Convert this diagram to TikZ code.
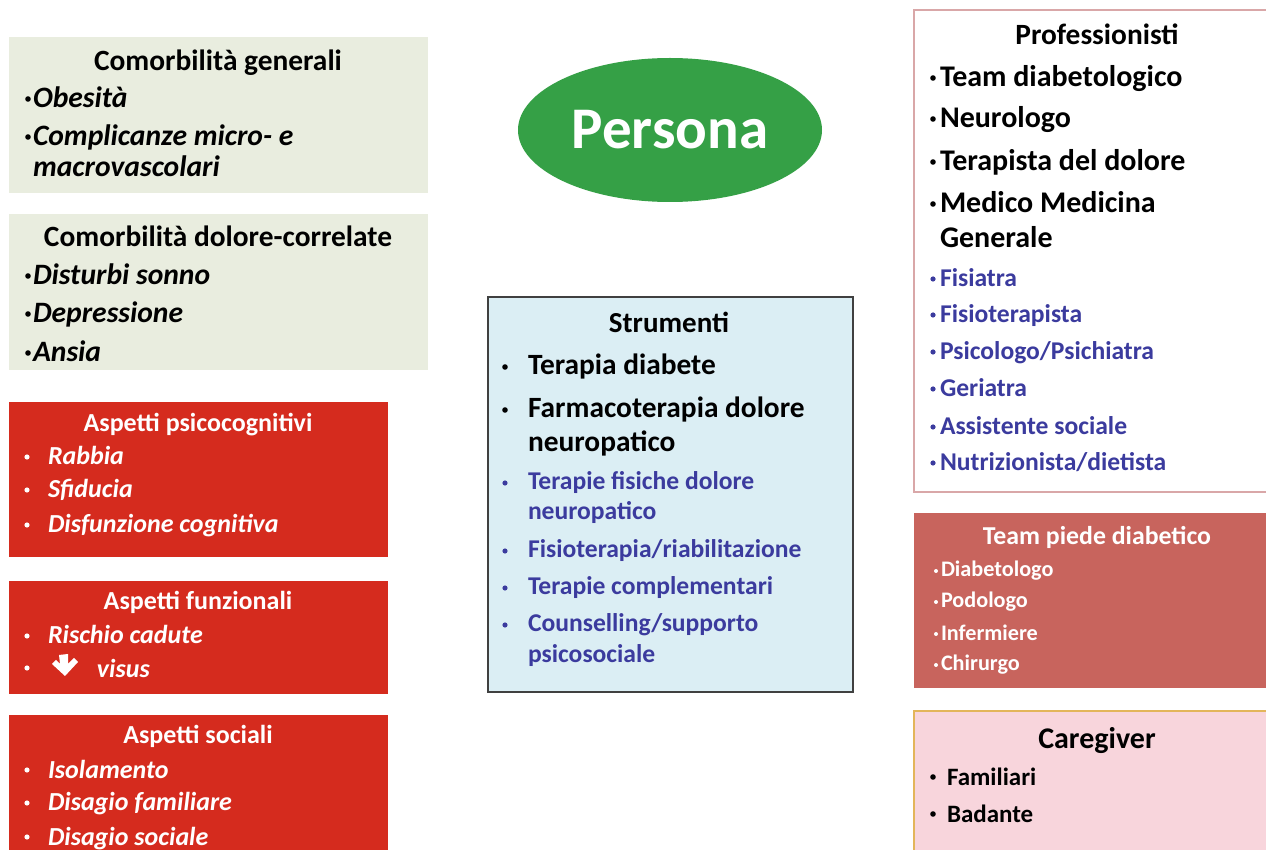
\documentclass[tikz,border=0pt]{standalone}
\usepackage{fontspec}
\setmainfont{Carlito}
\definecolor{greenbox}{HTML}{E9EDDF}
\definecolor{redbox}{HTML}{D52B1E}
\definecolor{footbox}{HTML}{C8645D}
\definecolor{carefill}{HTML}{F8D5DC}
\definecolor{careline}{HTML}{E3B55A}
\definecolor{profline}{HTML}{D9A7A8}
\definecolor{toolfill}{HTML}{DBEEF4}
\definecolor{toolline}{HTML}{404040}
\definecolor{persgreen}{HTML}{35A046}
\definecolor{itemblue}{HTML}{3B3B9E}
\newcommand{\fs}[1]{\fontsize{#1}{1.2\dimexpr#1\relax}\selectfont\bfseries}
\begin{document}
\begin{tikzpicture}[x=0.5pt,y=-0.5pt,
  every node/.style={inner sep=0pt, outer sep=0pt},
  ttl/.style={anchor=base},
  itm/.style={anchor=base west},
  dot/.style={circle, fill=black, minimum size=2.8pt},
  wdot/.style={dot, fill=white, minimum size=2.6pt},
  bdot/.style={dot, fill=itemblue, minimum size=2.6pt},
  gttl/.style={ttl, font=\fs{14.7pt}},
  gitm/.style={itm, font=\fs{14.8pt}\itshape},
  rttl/.style={ttl, text=white, font=\fs{13pt}},
  ritm/.style={itm, text=white, font=\fs{13pt}\itshape},
  pttl/.style={ttl, font=\fs{14.7pt}},
  pitm/.style={itm, font=\fs{15pt}},
  bitm/.style={itm, text=itemblue, font=\fs{12.8pt}},
  sttl/.style={ttl, font=\fs{14.5pt}},
  sitm/.style={itm, font=\fs{14.7pt}},
  fttl/.style={ttl, text=white, font=\fs{12.9pt}},
  fitm/.style={itm, text=white, font=\fs{11.1pt}},
  cttl/.style={ttl, font=\fs{15pt}},
  citm/.style={itm, font=\fs{12.5pt}}]
\clip (0,0) rectangle (1266,850);
\fill[white] (0,0) rectangle (1266,850);

% ---- left column: comorbidities ----
\fill[greenbox] (9,37) rectangle (428,193);
\node[gttl] (g1t) at (218,71) {Comorbilità generali};
\node[dot] (g1ab) at (28,99) {};
\node[gitm] (g1a) at (33,108) {Obesità};
\node[dot] (g1bb) at (28,137) {};
\node[gitm] (g1b) at (33,146) {Complicanze micro- e};
\node[gitm] (g1c) at (33,177) {macrovascolari};

\fill[greenbox] (9,214) rectangle (428,370);
\node[gttl] (g2t) at (218,247) {Comorbilità dolore-correlate};
\node[dot] (g2ab) at (28,276) {};
\node[gitm] (g2a) at (33,285) {Disturbi sonno};
\node[dot] (g2bb) at (28,314) {};
\node[gitm] (g2b) at (33,323) {Depressione};
\node[dot] (g2cb) at (28,353) {};
\node[gitm] (g2c) at (33,362) {Ansia};

% ---- left column: aspects ----
\fill[redbox] (9,402) rectangle (388,557);
\node[rttl] (r1t) at (198,432) {Aspetti psicocognitivi};
\node[wdot] (r1ab) at (27,457) {};
\node[ritm] (r1a) at (48,465) {Rabbia};
\node[wdot] (r1bb) at (27,490) {};
\node[ritm] (r1b) at (48,498) {Sfiducia};
\node[wdot] (r1cb) at (27,525) {};
\node[ritm] (r1c) at (48,533) {Disfunzione cognitiva};

\fill[redbox] (9,581) rectangle (388,694);
\node[rttl] (r2t) at (198,610) {Aspetti funzionali};
\node[wdot] (r2ab) at (27,636) {};
\node[ritm] (r2a) at (48,644) {Rischio cadute};
\node[wdot] (r2bb) at (27,668) {};
% heavy downward arrow before "visus"
\fill[white] (59,655) -- (68,654) -- (68,664) -- (74,658) -- (78,662) -- (65,676)
  -- (52,664) -- (56,660) -- (60,664) -- cycle;
\node[ritm] (r2b) at (97,677) {visus};

\fill[redbox] (9,715) rectangle (388,860);
\node[rttl] (r3t) at (198,743) {Aspetti sociali};
\node[wdot] (r3ab) at (27,770) {};
\node[ritm] (r3a) at (48,778) {Isolamento};
\node[wdot] (r3bb) at (27,803) {};
\node[ritm] (r3b) at (48,811) {Disagio familiare};
\node[wdot] (r3cb) at (27,837) {};
\node[ritm] (r3c) at (48,845) {Disagio sociale};

% ---- centre: person and tools ----
\fill[persgreen] (670,130) ellipse [x radius=152, y radius=72];
\node[text=white, font=\fs{29.5pt}] (pers) at (670,130) {Persona};

\filldraw[fill=toolfill, draw=toolline, line width=1pt] (488,297) rectangle (853,692);
\node[sttl] (st) at (669,333) {Strumenti};
\node[dot] (s1b) at (505,367) {};
\node[sitm] (s1) at (528,375) {Terapia diabete};
\node[dot] (s2b) at (505,410) {};
\node[sitm] (s2) at (528,418) {Farmacoterapia dolore};
\node[sitm] (s2c) at (528,452) {neuropatico};
\node[bdot] (s3b) at (505,483) {};
\node[bitm] (s3) at (528,490) {Terapie fisiche dolore};
\node[bitm] (s3c) at (528,520) {neuropatico};
\node[bdot] (s4b) at (505,551) {};
\node[bitm] (s4) at (528,558) {Fisioterapia/riabilitazione};
\node[bdot] (s5b) at (505,588) {};
\node[bitm] (s5) at (528,595) {Terapie complementari};
\node[bdot] (s6b) at (505,625) {};
\node[bitm] (s6) at (528,632) {Counselling/supporto};
\node[bitm] (s6c) at (528,662) {psicosociale};

% ---- right column: people ----
\draw[profline, line width=0.8pt] (1280,10) -- (914,10) -- (914,492) -- (1280,492);
\node[pttl] (pt) at (1097,45) {Professionisti};
\node[dot] (p1b) at (933,78) {};
\node[pitm] (p1) at (940,87) {Team diabetologico};
\node[dot] (p2b) at (933,119) {};
\node[pitm] (p2) at (940,128) {Neurologo};
\node[dot] (p3b) at (933,162) {};
\node[pitm] (p3) at (940,171) {Terapista del dolore};
\node[dot] (p4b) at (933,204) {};
\node[pitm] (p4) at (940,213) {Medico Medicina};
\node[pitm] (p4c) at (940,248) {Generale};
\node[bdot] (p5b) at (933,279) {};
\node[bitm] (p5) at (940,287) {Fisiatra};
\node[bdot] (p6b) at (933,315) {};
\node[bitm] (p6) at (940,323) {Fisioterapista};
\node[bdot] (p7b) at (933,352) {};
\node[bitm] (p7) at (940,360) {Psicologo/Psichiatra};
\node[bdot] (p8b) at (933,389) {};
\node[bitm] (p8) at (940,397) {Geriatra};
\node[bdot] (p9b) at (933,427) {};
\node[bitm] (p9) at (940,435) {Assistente sociale};
\node[bdot] (p10b) at (933,463) {};
\node[bitm] (p10) at (940,471) {Nutrizionista/dietista};

\fill[footbox] (914,513) rectangle (1280,688);
\node[fttl] (ft) at (1097,545) {Team piede diabetico};
\node[wdot, minimum size=2pt] (f1b) at (936,571) {};
\node[fitm] (f1) at (941,577) {Diabetologo};
\node[wdot, minimum size=2pt] (f2b) at (936,602) {};
\node[fitm] (f2) at (941,608) {Podologo};
\node[wdot, minimum size=2pt] (f3b) at (936,634) {};
\node[fitm] (f3) at (941,640) {Infermiere};
\node[wdot, minimum size=2pt] (f4b) at (936,665) {};
\node[fitm] (f4) at (941,671) {Chirurgo};

\filldraw[fill=carefill, draw=careline, line width=0.8pt] (914,711) rectangle (1280,870);
\node[cttl] (ct) at (1097,748) {Caregiver};
\node[dot] (c1b) at (933,777) {};
\node[citm] (c1) at (947,785) {Familiari};
\node[dot] (c2b) at (933,814) {};
\node[citm] (c2) at (947,822) {Badante};
\end{tikzpicture}
\end{document}
